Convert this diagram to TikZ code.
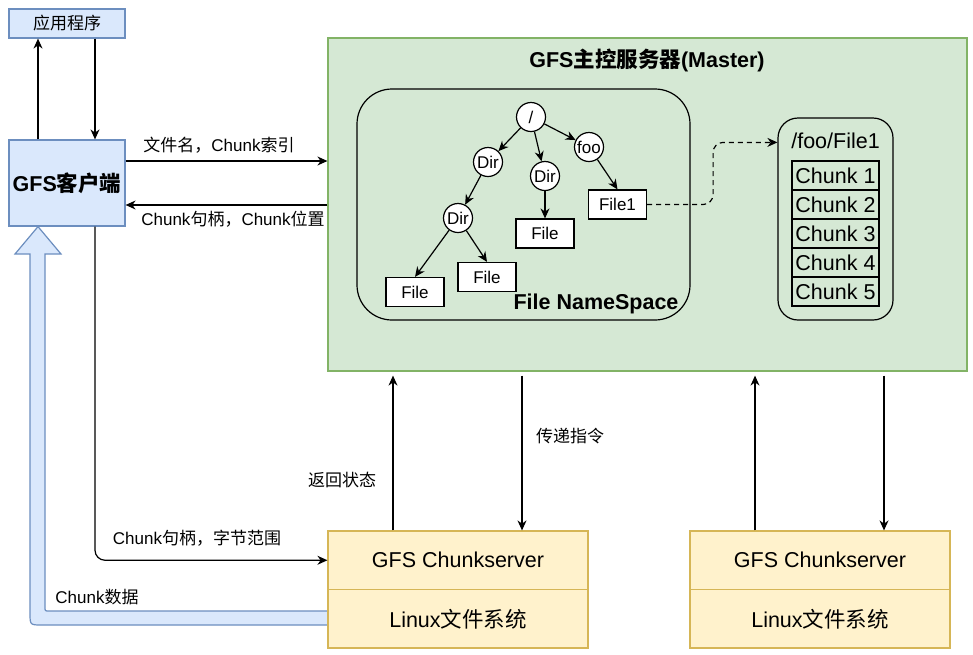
\documentclass[tikz,border=0pt]{standalone}
\usepackage{fontspec}
\setmainfont{Liberation Sans}
\newfontfamily\cjk{Noto Sans CJK SC}
\newcommand{\zh}[1]{{\cjk #1}}
\usepackage{xcolor}
\usetikzlibrary{arrows.meta}
\definecolor{blueFill}{HTML}{DAE8FC}
\definecolor{blueLine}{HTML}{6C8EBF}
\definecolor{greenFill}{HTML}{D5E8D4}
\definecolor{greenLine}{HTML}{82B366}
\definecolor{yellowFill}{HTML}{FFF2CC}
\definecolor{yellowLine}{HTML}{D6B656}

\begin{document}
\begin{tikzpicture}[x=1pt, y=-1pt, line width=1.2pt, >={Stealth[length=10pt,width=9pt]},
  every node/.style={font=\fontsize{17}{20}\selectfont, inner sep=0pt},
  bigtext/.style={font=\fontsize{21.5}{25}\selectfont},
  dirnode/.style={circle, draw, fill=white, minimum size=29pt},
  filenode/.style={draw, fill=white, minimum width=58pt, minimum height=29pt},
  chunkcell/.style={draw, bigtext, minimum width=87pt, minimum height=29pt},
  csbox/.style={draw=yellowLine, fill=yellowFill, bigtext, minimum width=260pt, minimum height=58.5pt}]
\useasboundingbox (0,0) rectangle (973,654);

% client side
\node[draw=blueLine, fill=blueFill, minimum width=116pt, minimum height=29pt] (app) at (67,23.5) {\zh{应用程序}};
\node[draw=blueLine, fill=blueFill, bigtext, minimum width=116pt, minimum height=86pt] (client) at (67,183) {\bfseries GFS\zh{客户端}};

% master
\node[draw=greenLine, fill=greenFill, minimum width=639pt, minimum height=333pt] (master) at (647.5,204.5) {};
\node[bigtext] (mastertitle) at (647,60) {\bfseries GFS\zh{主控服务器}(Master)};
\node[draw, rounded corners=35pt, minimum width=333pt, minimum height=231pt] (ns) at (523.5,204.5) {};
\node[bigtext] (nstitle) at (596,304) {\bfseries File NameSpace};

% namespace tree
\node[dirnode] (root) at (531,117) {/};
\node[dirnode] (dirA) at (488,162) {Dir};
\node[dirnode] (dirB) at (545,176) {Dir};
\node[dirnode] (foo) at (589,147) {foo};
\node[dirnode] (dirC) at (458,218) {Dir};
\node[filenode] (fileA) at (415,292) {File};
\node[filenode] (fileB) at (487,277) {File};
\node[filenode] (fileC) at (545,233.5) {File};
\node[filenode] (file1) at (617.5,204.5) {File1};
\draw[->] (root) -- (dirA);
\draw[->] (root) -- (dirB);
\draw[->] (root) -- (foo);
\draw[->] (dirA) -- (dirC);
\draw[->] (dirC) -- (fileA.north);
\draw[->] (dirC) -- (fileB.north);
\draw[->] (dirB) -- (fileC.north);
\draw[->] (foo) -- (file1.north);

% chunk list of /foo/File1
\node[draw, rounded corners=20pt, minimum width=115pt, minimum height=202pt] (chunkbox) at (835.5,219) {};
\node[bigtext] (chunktitle) at (835.5,141) {/foo/File1};
\foreach \i in {1,...,5}
  \node[chunkcell] (chunk\i) at (835.5,146.5+29*\i) {Chunk \i};
\draw[->, dash pattern=on 5pt off 4pt, rounded corners=10pt] (file1.east) -- ++(66,0) |- ([yshift=-25pt]chunkbox.north west);

% client <-> app, client <-> master
\draw[->] ([xshift=-29pt]client.north) -- ([xshift=-29pt]app.south);
\draw[->] ([xshift=28pt]app.south) -- ([xshift=28pt]client.north);
\draw[->] ([yshift=22pt]client.east) -- ([yshift=22pt]client.east -| master.west);
\node (lblreq) at (219,145) {\zh{文件名，}Chunk\zh{索引}};
\draw[->] ([yshift=-22pt]client.east -| master.west) -- ([yshift=-22pt]client.east);
\node (lblloc) at (233,219) {Chunk\zh{句柄，}Chunk\zh{位置}};

% data path back to the client
\draw[draw=blueLine, fill=blueFill] (328,611) -- (49,611) .. controls (45,611) .. (45,607) -- (45,254) -- (61,254)
  -- (client.south -| 38,0) -- (15,254) -- (30,254) -- (30,613) .. controls (30,625) .. (42,625) -- (328,625) -- cycle;
\node (lbldata) at (97,597) {Chunk\zh{数据}};

% chunkservers
\node[csbox] (cs1top) at (458,560.25) {GFS Chunkserver};
\node[csbox] (cs1fs) at (458,618.75) {Linux\zh{文件系统}};
\node[csbox] (cs2top) at (820,560.25) {GFS Chunkserver};
\node[csbox] (cs2fs) at (820,618.75) {Linux\zh{文件系统}};

\draw[->, rounded corners=10pt] ([xshift=28pt]client.south) |- (cs1top.west);
\node (lblrange) at (197,538) {Chunk\zh{句柄，字节范围}};

\draw[->, shorten >=4pt] ([xshift=-65pt]cs1top.north) -- ([xshift=-65pt]cs1top.north |- master.south);
\draw[->, shorten <=4pt] ([xshift=64pt]cs1top.north |- master.south) -- ([xshift=64pt]cs1top.north);
\node (lblstate) at (342,480) {\zh{返回状态}};
\node (lblcmd) at (570,436) {\zh{传递指令}};
\draw[->, shorten >=4pt] ([xshift=-65pt]cs2top.north) -- ([xshift=-65pt]cs2top.north |- master.south);
\draw[->, shorten <=4pt] ([xshift=64pt]cs2top.north |- master.south) -- ([xshift=64pt]cs2top.north);
\end{tikzpicture}
\end{document}
